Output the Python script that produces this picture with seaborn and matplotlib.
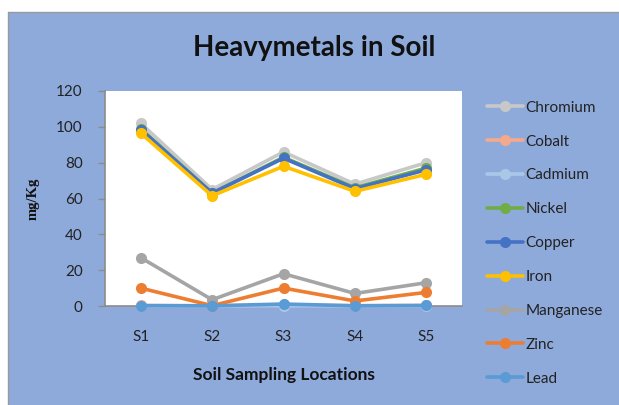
import numpy as np
import pandas as pd
import matplotlib
matplotlib.use("Agg")
import matplotlib.pyplot as plt
import seaborn as sns

# Sampling locations and metal concentrations (mg/Kg)
locations = ["S1", "S2", "S3", "S4", "S5"]
metals = ["Chromium", "Cobalt", "Cadmium", "Nickel", "Copper",
          "Iron", "Manganese", "Zinc", "Lead"]
chromium = [102.0, 65.0, 86.0, 68.0, 80.0]
cobalt = [0.3, 0.1, 0.5, 0.2, 0.3]
cadmium = [0.1, 0.05, 0.2, 0.05, 0.1]
nickel = [99.0, 63.0, 83.0, 66.0, 77.0]
copper = [98.5, 63.0, 82.5, 65.5, 76.0]
iron = [96.5, 61.5, 78.0, 64.0, 73.5]
manganese = [27.0, 3.5, 18.0, 7.0, 13.0]
zinc = [10.0, 0.2, 10.0, 2.8, 7.6]
lead = [0.2, 0.1, 1.1, 0.1, 0.3]
yticks = [0, 20, 40, 60, 80, 100, 120]

colors = ["#c8c8c8", "#f4a98c", "#a9c8e8", "#70ad47", "#4472c4",
          "#ffc000", "#a5a5a5", "#ed7d31", "#5b9bd5"]

series = [chromium, cobalt, cadmium, nickel, copper, iron, manganese, zinc, lead]
df = pd.DataFrame({
    "Location": np.tile(locations, len(metals)),
    "x": np.tile(np.arange(len(locations)), len(metals)),
    "Metal": np.repeat(metals, len(locations)),
    "Value": np.concatenate(series),
})

bg = "#8eaadb"
sns.set_theme(style="white")
plt.rcParams["font.family"] = ["Lato", "DejaVu Sans"]

W, H = 619, 405
fig = plt.figure(figsize=(W / 100, H / 100), dpi=100)
fig.patch.set_facecolor("white")

# Chart frame: blue panel with grey top/left border running off the page
fx, fy = 8 / W, 1 - 12 / H
fig.patches.append(plt.Rectangle((fx, 0), 1 - fx, fy, transform=fig.transFigure,
                                 facecolor=bg, edgecolor="none", zorder=-10))
fig.lines.append(plt.Line2D([fx, fx], [0, fy], transform=fig.transFigure,
                            color="#9a9a9a", linewidth=1.0))
fig.lines.append(plt.Line2D([fx, 1], [fy, fy], transform=fig.transFigure,
                            color="#9a9a9a", linewidth=1.0))

ax = fig.add_axes([105 / W, 1 - 306 / H, (462 - 105) / W, (306 - 91) / H])
ax.set_facecolor("white")

sns.lineplot(data=df, x="x", y="Value", hue="Metal", hue_order=metals,
             palette=colors, marker="o", markersize=8, markeredgewidth=0,
             linewidth=2.6, ax=ax, legend=False, zorder=3)
for ln in ax.lines:
    ln.set_clip_on(False)

ax.set_xlim(-0.5, 4.5)
ax.set_ylim(0, 120)
ax.set_yticks(yticks)
ax.set_yticklabels([str(t) for t in yticks], fontsize=11, color="#222222")
ax.set_xticks(range(len(locations)))
ax.set_xticklabels(locations, fontsize=11, color="#222222")
ax.tick_params(axis="y", length=5, width=1, color="#8c8c8c", pad=11, direction="out", left=True)
ax.tick_params(axis="x", length=0, pad=17)
for s in ["top", "right"]:
    ax.spines[s].set_visible(False)
for s in ["left", "bottom"]:
    ax.spines[s].set_color("#8c8c8c")
    ax.spines[s].set_linewidth(1.2)

ax.set_xlabel("Soil Sampling Locations", fontsize=12.5, fontweight="bold",
              color="#111111", labelpad=17)
ax.set_ylabel("mg/Kg", fontsize=10.5, fontweight="bold", family="Liberation Serif",
              color="#111111", labelpad=12)

fig.text(314 / W, 1 - 48 / H, "Heavymetals in Soil", ha="center", va="center",
         fontsize=20, fontweight="bold", color="#111111")

handles = [plt.Line2D([], [], color=c, marker="o", markersize=8, markeredgewidth=0,
                      linewidth=2.6) for c in colors]
fig.legend(handles, metals, loc="upper left", bbox_to_anchor=(473 / W, 1 - 87 / H),
           frameon=False, fontsize=11, labelspacing=1.3, handlelength=2.4,
           handletextpad=0.15, labelcolor="#222222")

fig.savefig("out.png", dpi=100, facecolor=fig.get_facecolor())
